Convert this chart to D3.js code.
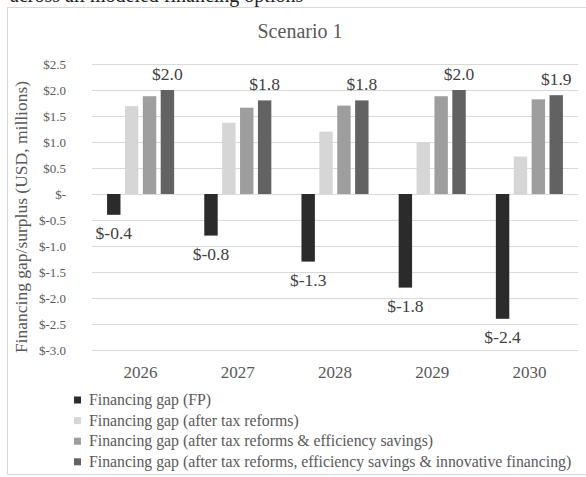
<!DOCTYPE html>
<html>
<head>
<meta charset="utf-8">
<script src="https://cdn.jsdelivr.net/npm/d3@7/dist/d3.min.js"></script>
<style>
  html, body { margin: 0; padding: 0; background: #ffffff; }
  svg { display: block; }
  svg text { font-family: "Liberation Serif", "Times New Roman", serif !important; }
</style>
</head>
<body>
<svg id="chart" width="586" height="477"></svg>
<script>
// Financing gap / surplus by year, Scenario 1 (USD, millions)
const years = ["2026", "2027", "2028", "2029", "2030"];
const seriesNames = [
  "Financing gap (FP)",
  "Financing gap (after tax reforms)",
  "Financing gap (after tax reforms & efficiency savings)",
  "Financing gap (after tax reforms, efficiency savings & innovative financing)"
];
const gapFP          = [-0.4, -0.8, -1.3, -1.8, -2.4];
const gapTax         = [1.69, 1.37, 1.20, 0.99, 0.72];
const gapTaxEff      = [1.88, 1.66, 1.70, 1.88, 1.82];
const gapTaxEffInnov = [2.0, 1.8, 1.8, 2.0, 1.9];
const yTicks = [2.5, 2.0, 1.5, 1.0, 0.5, 0, -0.5, -1.0, -1.5, -2.0, -2.5, -3.0];
const seriesColors = ["#2b2b2b", "#d6d6d6", "#9e9e9e", "#626262"];

const seriesValues = [gapFP, gapTax, gapTaxEff, gapTaxEffInnov];
const labelledSeries = [0, 3]; // FP below its bars, the final scenario above its bars

const serif = '"Liberation Serif", "Times New Roman", serif';
const svg = d3.select("#chart").style("font-family", serif);
const plot = { left: 92, right: 578, top: 64, bottom: 350 };

const money = v => v === 0 ? "$-" : "$" + v.toFixed(1);

// running text of the surrounding page, cut by the top edge
svg.append("text")
  .attr("x", 10).attr("y", 2)
  .attr("font-size", 20).attr("fill", "#222")
  .style("font-family", serif)
  .text("across all modeled financing options");

// chart frame
svg.append("rect")
  .attr("x", 7.5).attr("y", 7.5)
  .attr("width", 590).attr("height", 467)
  .attr("fill", "#ffffff").attr("stroke", "#d9d9d9");

// title
svg.append("text")
  .attr("x", 300).attr("y", 38)
  .attr("text-anchor", "middle")
  .attr("font-size", 20).attr("fill", "#595959")
  .style("font-family", serif)
  .text("Scenario 1");

const x0 = d3.scaleBand().domain(years)
  .range([plot.left, plot.right]).paddingInner(0.31).paddingOuter(0.155);
const x1 = d3.scaleBand().domain(d3.range(seriesNames.length))
  .range([0, x0.bandwidth()]).paddingInner(0.25).paddingOuter(0);
const y = d3.scaleLinear().domain([-3.0, 2.5]).range([plot.bottom, plot.top]);

// gridlines and y tick labels
const yAxis = svg.append("g")
  .attr("transform", `translate(${plot.left},0)`)
  .call(d3.axisLeft(y).tickValues(yTicks).tickFormat(money)
    .tickSizeInner(-(plot.right - plot.left)).tickSizeOuter(0).tickPadding(26));
yAxis.attr("font-family", null);
yAxis.select(".domain").remove();
yAxis.selectAll(".tick line").attr("stroke", "#d9d9d9");
yAxis.selectAll(".tick text")
  .attr("font-size", 13).attr("fill", "#595959")
  .style("font-family", serif);

// y axis title
svg.append("text")
  .attr("transform", "translate(27,217) rotate(-90)")
  .attr("text-anchor", "middle")
  .attr("font-size", 17.5).attr("fill", "#595959")
  .style("font-family", serif)
  .text("Financing gap/surplus (USD, millions)");

// category labels
const xAxis = svg.append("g")
  .attr("transform", `translate(0,${plot.bottom})`)
  .call(d3.axisBottom(x0).tickSize(0).tickPadding(16));
xAxis.attr("font-family", null);
xAxis.select(".domain").remove();
xAxis.selectAll(".tick text")
  .attr("font-size", 17).attr("fill", "#595959")
  .style("font-family", serif);

// bars
const groups = svg.append("g").selectAll("g")
  .data(years)
  .join("g")
  .attr("transform", d => `translate(${x0(d)},0)`);

groups.selectAll("rect")
  .data((yr, i) => seriesValues.map((vals, s) => ({ s, v: vals[i] })))
  .join("rect")
  .attr("x", d => x1(d.s))
  .attr("width", x1.bandwidth())
  .attr("y", d => y(Math.max(0, d.v)))
  .attr("height", d => Math.abs(y(d.v) - y(0)))
  .attr("fill", d => seriesColors[d.s]);

// value labels
groups.selectAll("text.val")
  .data((yr, i) => labelledSeries.map(s => ({ s, v: seriesValues[s][i] })))
  .join("text")
  .attr("class", "val")
  .attr("x", d => x1(d.s) + x1.bandwidth() / 2)
  .attr("y", d => d.v < 0 ? y(d.v) + 24 : y(d.v) - 10)
  .attr("text-anchor", "middle")
  .attr("font-size", 17.5).attr("fill", "#404040")
  .style("font-family", serif)
  .text(d => money(d.v));

// legend
const legend = svg.append("g").selectAll("g")
  .data(seriesNames)
  .join("g")
  .attr("transform", (d, i) => `translate(74,${400 + i * 20.6})`);
legend.append("rect")
  .attr("x", 0).attr("y", -3.5)
  .attr("width", 7).attr("height", 7)
  .attr("fill", (d, i) => seriesColors[i]);
legend.append("text")
  .attr("x", 15).attr("y", 5)
  .attr("font-size", 15.8).attr("fill", "#595959")
  .style("font-family", serif)
  .text(d => d);
</script>
</body>
</html>
